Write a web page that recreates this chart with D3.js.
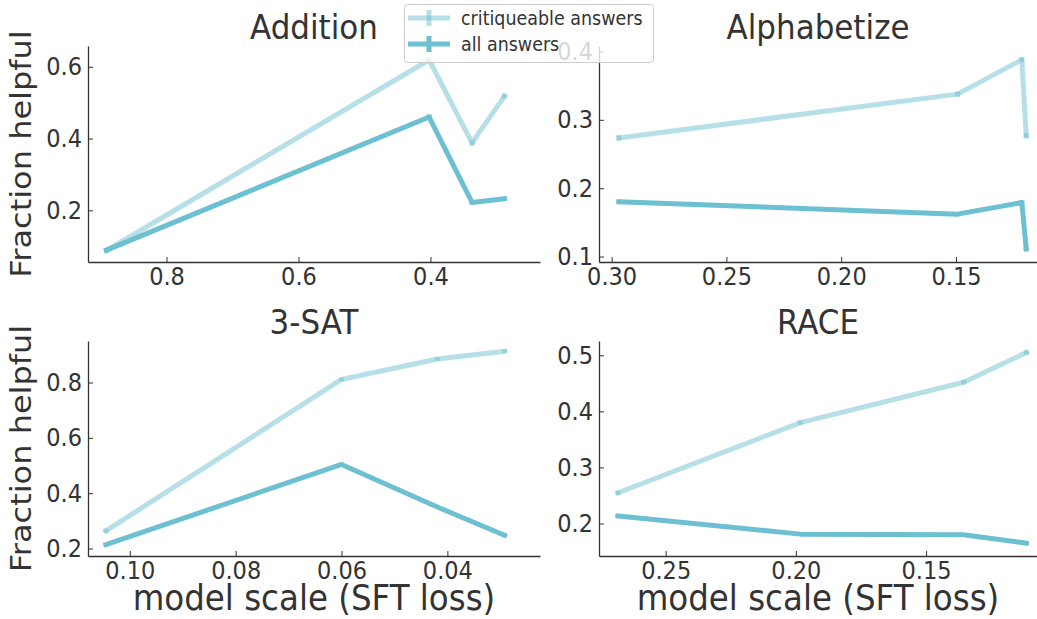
<!DOCTYPE html>
<html>
<head>
<meta charset="utf-8">
<script src="https://cdn.jsdelivr.net/npm/d3@7"></script>
<style>
  html, body { margin: 0; padding: 0; background: #fff; }
  svg { display: block; font-family: "DejaVu Sans", sans-serif; }
  text.tall { transform-box: fill-box; transform-origin: 50% 50%; transform: scaleY(1.1); }
</style>
</head>
<body>
<svg id="chart" width="1037" height="619"></svg>
<script>
// ---------------- data ----------------
const taskNames = ["Addition", "Alphabetize", "3-SAT", "RACE"];
const seriesNames = ["critiqueable answers", "all answers"];

const additionLoss = [0.891, 0.402, 0.337, 0.288];
const additionCritiqueable = [0.088, 0.619, 0.388, 0.518];
const additionAll = [0.089, 0.460, 0.222, 0.232];
const additionCritErr = [0.006, 0.008, 0.008, 0.007];
const additionAllErr = [0.005, 0.007, 0.006, 0.006];

const alphabetizeLoss = [0.2968, 0.1493, 0.1213, 0.1194];
const alphabetizeCritiqueable = [0.2736, 0.3376, 0.388, 0.277];
const alphabetizeAll = [0.180, 0.162, 0.179, 0.111];
const alphabetizeCritErr = [0.004, 0.004, 0.004, 0.004];
const alphabetizeAllErr = [0.003, 0.003, 0.003, 0.003];

const satLoss = [0.1045, 0.0600, 0.0419, 0.0292];
const satCritiqueable = [0.264, 0.811, 0.885, 0.913];
const satAll = [0.214, 0.504, 0.350, 0.248];
const satCritErr = [0.008, 0.006, 0.006, 0.006];
const satAllErr = [0.006, 0.006, 0.006, 0.006];

const raceLoss = [0.2683, 0.1983, 0.1356, 0.1115];
const raceCritiqueable = [0.2547, 0.380, 0.452, 0.505];
const raceAll = [0.2135, 0.181, 0.180, 0.165];
const raceCritErr = [0.004, 0.004, 0.004, 0.004];
const raceAllErr = [0.003, 0.003, 0.003, 0.003];

// axis limits (reversed x)
const additionXLim = [0.919, 0.234], additionYLim = [0.056, 0.658];
const alphabetizeXLim = [0.3055, 0.1147], alphabetizeYLim = [0.092, 0.408];
const satXLim = [0.1079, 0.0225], satYLim = [0.173, 0.950];
const raceXLim = [0.2756, 0.1074], raceYLim = [0.142, 0.5255];

// tick labels
const additionXTicks = [0.8, 0.6, 0.4], additionYTicks = [0.2, 0.4, 0.6];
const alphabetizeXTicks = [0.30, 0.25, 0.20, 0.15], alphabetizeYTicks = [0.1, 0.2, 0.3, 0.4];
const satXTicks = [0.10, 0.08, 0.06, 0.04], satYTicks = [0.2, 0.4, 0.6, 0.8];
const raceXTicks = [0.25, 0.20, 0.15], raceYTicks = [0.2, 0.3, 0.4, 0.5];

const yLabel = "Fraction helpful";
const xLabel = "model scale (SFT loss)";

// ---------------- styling / layout ----------------
const BASE = "#6DC0D1";
const TEXT = "#333333";
const LW = 5;
const cols = [[88, 540], [599, 1037]];
const rows = [[46, 262], [341, 556]];

const panels = [
  {title: taskNames[0], x: additionLoss, crit: additionCritiqueable, all: additionAll, ce: additionCritErr, ae: additionAllErr,
   xlim: additionXLim, ylim: additionYLim, xt: additionXTicks, yt: additionYTicks, xf: ".1f", yf: ".1f", c: 0, r: 0},
  {title: taskNames[1], x: alphabetizeLoss, crit: alphabetizeCritiqueable, all: alphabetizeAll, ce: alphabetizeCritErr, ae: alphabetizeAllErr,
   xlim: alphabetizeXLim, ylim: alphabetizeYLim, xt: alphabetizeXTicks, yt: alphabetizeYTicks, xf: ".2f", yf: ".1f", c: 1, r: 0},
  {title: taskNames[2], x: satLoss, crit: satCritiqueable, all: satAll, ce: satCritErr, ae: satAllErr,
   xlim: satXLim, ylim: satYLim, xt: satXTicks, yt: satYTicks, xf: ".2f", yf: ".1f", c: 0, r: 1},
  {title: taskNames[3], x: raceLoss, crit: raceCritiqueable, all: raceAll, ce: raceCritErr, ae: raceAllErr,
   xlim: raceXLim, ylim: raceYLim, xt: raceXTicks, yt: raceYTicks, xf: ".2f", yf: ".1f", c: 1, r: 1},
];

const svg = d3.select("#chart");

panels.forEach(p => {
  const [x0, x1] = cols[p.c];
  const [y0, y1] = rows[p.r];
  const xs = d3.scaleLinear().domain(p.xlim).range([x0, x1]);
  const ys = d3.scaleLinear().domain(p.ylim).range([y1, y0]);
  const g = svg.append("g");

  // series
  const series = [
    {vals: p.crit, err: p.ce, op: 0.5},
    {vals: p.all, err: p.ae, op: 1.0},
  ];
  const line = d3.line().x(d => xs(d[0])).y(d => ys(d[1]));
  series.forEach(s => {
    const pts = p.x.map((xv, i) => [xv, s.vals[i]]);
    g.append("path")
      .attr("d", line(pts))
      .attr("fill", "none")
      .attr("stroke", BASE)
      .attr("stroke-opacity", s.op)
      .attr("stroke-width", LW)
      .attr("stroke-linejoin", "round")
      .attr("stroke-linecap", "square");
    g.selectAll(null).data(pts).enter().append("line")
      .attr("x1", d => xs(d[0])).attr("x2", d => xs(d[0]))
      .attr("y1", (d, i) => ys(d[1] - s.err[i]))
      .attr("y2", (d, i) => ys(d[1] + s.err[i]))
      .attr("stroke", BASE)
      .attr("stroke-opacity", s.op)
      .attr("stroke-width", LW);
  });

  // axes
  const xAxis = d3.axisBottom(xs).tickValues(p.xt).tickFormat(d3.format(p.xf))
    .tickSizeInner(-5).tickSizeOuter(0).tickPadding(6);
  const yAxis = d3.axisLeft(ys).tickValues(p.yt).tickFormat(d3.format(p.yf))
    .tickSizeInner(-5).tickSizeOuter(0).tickPadding(6);
  const gx = g.append("g").attr("transform", `translate(0,${y1})`).call(xAxis);
  const gy = g.append("g").attr("transform", `translate(${x0},0)`).call(yAxis);
  [gx, gy].forEach(a => {
    a.select(".domain").attr("stroke", TEXT).attr("stroke-width", 1.3);
    a.selectAll(".tick line").attr("stroke", TEXT).attr("stroke-width", 1);
    a.selectAll(".tick text").attr("fill", TEXT).attr("font-size", 22.5)
      .attr("font-family", "DejaVu Sans").classed("tall", true);
  });

  // title
  g.append("text").classed("tall", true)
    .attr("x", (x0 + x1) / 2).attr("y", y0 - 8)
    .attr("text-anchor", "middle").attr("fill", TEXT)
    .attr("font-size", 31).text(p.title);

  if (p.c === 0) {
    g.append("text")
      .attr("transform", `translate(31,${(y0 + y1) / 2}) scale(0.9,1) rotate(-90)`)
      .attr("text-anchor", "middle").attr("fill", TEXT)
      .attr("font-size", 32).text(yLabel);
  }
  if (p.r === 1) {
    g.append("text").classed("tall", true)
      .attr("x", (x0 + x1) / 2).attr("y", 609)
      .attr("text-anchor", "middle").attr("fill", TEXT)
      .attr("font-size", 32.5).text(xLabel);
  }
});

// legend
const leg = svg.append("g");
leg.append("rect")
  .attr("x", 404.5).attr("y", 4.5).attr("width", 249).attr("height", 58)
  .attr("rx", 3).attr("fill", "#fff").attr("fill-opacity", 0.8)
  .attr("stroke", "#cccccc").attr("stroke-width", 1);
const legOp = [0.5, 1.0];
seriesNames.forEach((name, i) => {
  const cy = 18 + i * 26;
  leg.append("line").attr("x1", 408).attr("x2", 450).attr("y1", cy).attr("y2", cy)
    .attr("stroke", BASE).attr("stroke-opacity", legOp[i]).attr("stroke-width", LW);
  leg.append("line").attr("x1", 429).attr("x2", 429).attr("y1", cy - 8).attr("y2", cy + 8)
    .attr("stroke", BASE).attr("stroke-opacity", legOp[i]).attr("stroke-width", LW);
  leg.append("text").classed("tall", true).attr("x", 461).attr("y", cy + 6).attr("fill", TEXT)
    .attr("font-size", 17.5).text(name);
});
</script>
</body>
</html>
